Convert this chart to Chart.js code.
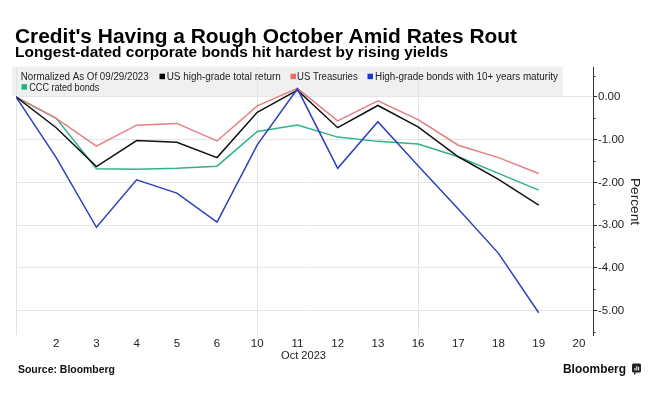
<!DOCTYPE html>
<html>
<head>
<meta charset="utf-8">
<script src="https://cdn.jsdelivr.net/npm/chart.js@4.4.1/dist/chart.umd.min.js"></script>
<style>
  html, body { margin: 0; padding: 0; background: #ffffff; }
  #wrap { width: 660px; height: 404px; position: relative; }
</style>
</head>
<body>
<div id="wrap"><canvas id="c" width="660" height="404"></canvas></div>
<script>
// ---- data ----
const categories = ['Sep 29', 'Oct 2', 'Oct 3', 'Oct 4', 'Oct 5', 'Oct 6', 'Oct 10', 'Oct 11', 'Oct 12', 'Oct 13', 'Oct 16', 'Oct 17', 'Oct 18', 'Oct 19', 'Oct 20'];
const xTickLabels = ['', '2', '3', '4', '5', '6', '10', '11', '12', '13', '16', '17', '18', '19', '20'];
const usHighGrade = [0, -0.72, -1.63, -1.02, -1.06, -1.42, -0.36, 0.16, -0.72, -0.20, -0.70, -1.40, -1.93, -2.53];
const usTreasuries = [0, -0.50, -1.15, -0.66, -0.62, -1.03, -0.21, 0.20, -0.56, -0.09, -0.53, -1.13, -1.42, -1.79];
const highGrade10 = [0, -1.42, -3.05, -1.94, -2.25, -2.93, -1.12, 0.19, -1.67, -0.58, -1.61, -2.62, -3.66, -5.05];
const cccRated = [0, -0.50, -1.68, -1.69, -1.67, -1.62, -0.81, -0.66, -0.94, -1.04, -1.10, -1.40, -1.79, -2.18];
const yTickValues = [-5, -4, -3, -2, -1, 0];
const xGridAt = [0, 6, 10];

const seriesNames = ['US high-grade total return', 'US Treasuries', 'High-grade bonds with 10+ years maturity', 'CCC rated bonds'];
const lineColors = ['#111111', '#e57f80', '#2c42bb', '#2fb18c'];
const swatchColors = ['#000000', '#f0696b', '#1538d6', '#1db487'];

const FAM = '"Liberation Sans", Arial, sans-serif';

function pts(arr) { return arr.map((v, i) => ({ x: i, y: v })); }

function fitText(ctx, text, x, y, weight, size, targetW, color, align) {
  ctx.save();
  ctx.font = weight + ' ' + size + 'px ' + FAM;
  ctx.fillStyle = color;
  ctx.textBaseline = 'alphabetic';
  const w = ctx.measureText(text).width;
  const sx = targetW ? targetW / w : 1;
  let left = x;
  if (align === 'center') left = x - (w * sx) / 2;
  ctx.translate(left, y);
  ctx.scale(sx, 1);
  ctx.textAlign = 'left';
  ctx.fillText(text, 0, 0);
  ctx.restore();
}

const decorPlugin = {
  id: 'decor',
  beforeDraw(chart) {
    const ctx = chart.ctx;
    ctx.save();
    ctx.fillStyle = '#f0f0f0';
    ctx.fillRect(12, 66.5, 551, 29.5);
    ctx.restore();
  },
  afterDraw(chart) {
    const ctx = chart.ctx;
    // Titles
    fitText(ctx, "Credit's Having a Rough October Amid Rates Rout", 15, 43, 'bold', 19.5, 502, '#000');
    fitText(ctx, 'Longest-dated corporate bonds hit hardest by rising yields', 15, 57.3, 'bold', 14.5, 433, '#000');
    // Legend
    fitText(ctx, 'Normalized As Of 09/29/2023', 20.7, 80, 'normal', 10, 128, '#222');
    const items = [
      { sx: 159.5, tx: 166.7, w: 114, y: 80, sy: 73.7 },
      { sx: 290.5, tx: 297, w: 60.7, y: 80, sy: 73.7 },
      { sx: 367.5, tx: 375, w: 183, y: 80, sy: 73.7 },
      { sx: 21.5, tx: 29.3, w: 70, y: 90.7, sy: 84.2 }
    ];
    items.forEach((it, i) => {
      ctx.fillStyle = swatchColors[i];
      ctx.fillRect(it.sx, it.sy, 5.5, 5.5);
      fitText(ctx, seriesNames[i], it.tx, it.y, 'normal', 10, it.w, '#222');
    });
    // minor ticks on y axis
    const ys = chart.scales.y;
    ctx.save();
    ctx.strokeStyle = '#333';
    ctx.lineWidth = 1;
    for (let v = 0.5; v >= -5.5; v -= 1) {
      const py = Math.round(ys.getPixelForValue(v)) + 0.5;
      ctx.beginPath();
      ctx.moveTo(ys.left, py);
      ctx.lineTo(ys.left + 2.5, py);
      ctx.stroke();
    }
    ctx.restore();
    // x axis sub label
    fitText(ctx, 'Oct 2023', 303.5, 359.3, 'normal', 11.5, 45, '#222', 'center');
    // y axis title
    ctx.save();
    ctx.translate(631, 201.5);
    ctx.rotate(Math.PI / 2);
    fitText(ctx, 'Percent', 0, 0, 'normal', 13.5, 47, '#222', 'center');
    ctx.restore();
    // Footer
    fitText(ctx, 'Source: Bloomberg', 18, 373.3, 'bold', 10.5, 97, '#111');
    fitText(ctx, 'Bloomberg', 563, 373, 'bold', 12.5, 63, '#111');
    // small logo icon
    ctx.save();
    ctx.fillStyle = '#222';
    ctx.beginPath();
    if (ctx.roundRect) { ctx.roundRect(632, 363.5, 9, 9, 1.5); } else { ctx.rect(632, 363.5, 9, 9); }
    ctx.fill();
    ctx.beginPath();
    ctx.moveTo(634, 372.5); ctx.lineTo(634, 375); ctx.lineTo(636.5, 372.5); ctx.closePath();
    ctx.fill();
    ctx.fillStyle = '#fff';
    ctx.fillRect(634.5, 368, 1, 2.5);
    ctx.fillRect(636.3, 366, 1, 4.5);
    ctx.fillRect(638.1, 367, 1, 3.5);
    ctx.restore();
  }
};

const datasets = [usHighGrade, usTreasuries, highGrade10, cccRated].map((arr, i) => ({
  label: seriesNames[i],
  data: pts(arr),
  borderColor: lineColors[i],
  backgroundColor: lineColors[i],
  borderWidth: 1.5,
  pointRadius: 0,
  pointHoverRadius: 0,
  tension: 0,
  fill: false
}));
// draw order: green, red, black, blue on top
datasets[0].order = 2; datasets[1].order = 3; datasets[2].order = 1; datasets[3].order = 4;

new Chart(document.getElementById('c'), {
  type: 'line',
  data: { datasets },
  options: {
    responsive: false,
    animation: false,
    devicePixelRatio: 1,
    layout: { padding: { left: 16, top: 67, right: 0, bottom: 0 } },
    plugins: { legend: { display: false }, tooltip: { enabled: false }, title: { display: false } },
    scales: {
      x: {
        type: 'linear',
        min: 0,
        max: 14.35,
        afterBuildTicks(scale) { scale.ticks = xTickLabels.map((l, i) => ({ value: i })); },
        afterFit(scale) { scale.height = 69; },
        ticks: {
          autoSkip: false,
          maxRotation: 0,
          padding: 2,
          color: '#222',
          font: { family: FAM, size: 11.5 },
          callback: (v) => xTickLabels[v] !== undefined ? xTickLabels[v] : ''
        },
        grid: {
          drawTicks: false,
          color: (c) => (c.tick && xGridAt.includes(c.tick.value)) ? '#e3e3e3' : 'rgba(0,0,0,0)',
          lineWidth: 1
        },
        border: { display: false }
      },
      y: {
        type: 'linear',
        position: 'right',
        min: -5.57,
        max: 0.70,
        afterBuildTicks(scale) { scale.ticks = yTickValues.map(v => ({ value: v })); },
        afterFit(scale) { scale.width = 67; },
        ticks: {
          padding: 1,
          color: '#222',
          font: { family: FAM, size: 11.5 },
          callback: (v) => Number(v).toFixed(2)
        },
        grid: {
          color: '#e6e6e6',
          lineWidth: 1,
          drawTicks: true,
          tickLength: 4,
          tickColor: '#333'
        },
        border: { display: true, color: '#333', width: 1 }
      }
    }
  },
  plugins: [decorPlugin]
});
</script>
</body>
</html>
